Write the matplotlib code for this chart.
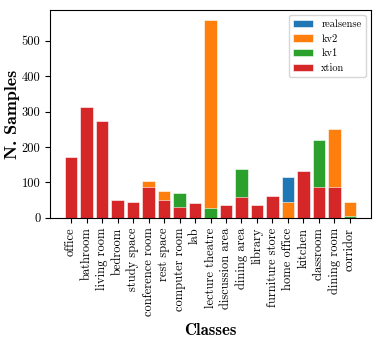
import numpy as np
import matplotlib
matplotlib.use("Agg")
import matplotlib.pyplot as plt

plt.rcParams['font.family'] = 'serif'
plt.rcParams['font.serif'] = ['cmr10']
plt.rcParams['mathtext.fontset'] = 'cm'
plt.rcParams['axes.formatter.use_mathtext'] = False

siniflar = ['office', 'bathroom', 'living room', 'bedroom', 'study space',
            'conference room', 'rest space', 'computer room', 'lab',
            'lecture theatre', 'discussion area', 'dining area', 'library',
            'furniture store', 'home office', 'kitchen', 'classroom',
            'dining room', 'corridor']

# heights per sensor (bars drawn from 0, later ones on top)
realsense = [0, 0, 0, 0, 0, 0, 0, 0, 0, 0, 0, 0, 0, 0, 116, 0, 0, 0, 0]
kv2 = [0, 0, 0, 0, 0, 104, 77, 0, 0, 559, 0, 0, 0, 0, 45, 0, 0, 250, 45]
kv1 = [0, 0, 0, 0, 0, 0, 0, 70, 0, 27, 0, 138, 0, 0, 0, 0, 221, 0, 6]
xtion = [173, 314, 272, 49, 45, 88, 51, 30, 42, 0, 35, 59, 35, 61, 0, 131, 86, 86, 0]

seriler = [('realsense', realsense, 'tab:blue'),
           ('kv2', kv2, 'tab:orange'),
           ('kv1', kv1, 'tab:green'),
           ('xtion', xtion, 'tab:red')]

fig, ax = plt.subplots(figsize=(3.81, 3.42), dpi=100)
x = np.arange(len(siniflar))
for ad, deger, renk in seriler:
    ax.bar(x, deger, color=renk, label=ad, edgecolor='white', linewidth=0.4)

ax.set_xticks(x)
ax.set_xticklabels(siniflar, rotation=90, fontsize=9)
ax.tick_params(axis='y', labelsize=9)
ax.set_ylabel('N. Samples', fontname='cmb10', fontsize=13, labelpad=1)
ax.set_xlabel('Classes', fontname='cmb10', fontsize=12, labelpad=5)
ax.legend(fontsize=7.5, loc='upper right', labelspacing=0.5, handlelength=1.9)

fig.subplots_adjust(left=0.132, right=0.973, top=0.971, bottom=0.363)
fig.savefig('out.png', dpi=100)
